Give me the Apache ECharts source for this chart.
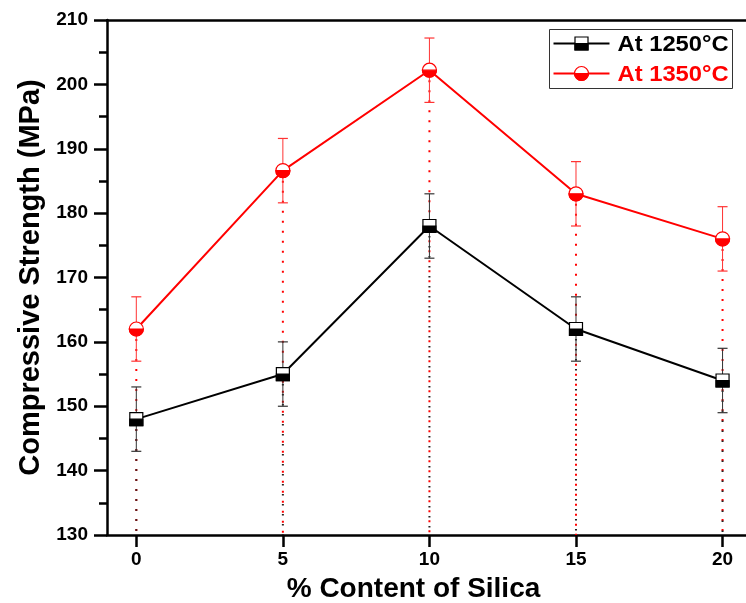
<!DOCTYPE html>
<html>
<head>
<meta charset="utf-8">
<script src="https://cdn.jsdelivr.net/npm/echarts@6/dist/echarts.min.js"></script>
<style>
  html, body { margin: 0; padding: 0; background: #ffffff; }
  #chart { width: 746px; height: 603px; }
</style>
</head>
<body>
<div id="chart"></div>
<script>
// Silica content (%) on the x axis
const silica = [0, 5, 10, 15, 20];
// Compressive strength (MPa) after firing at each temperature
const strength1250 = [148, 155, 178, 162, 154];
const strength1350 = [162, 186.6, 202.2, 183, 176];
// Standard deviation (MPa) for each point
const error1250 = [5, 5, 5, 5, 5];
const error1350 = [5, 5, 5, 5, 5];
// Legend labels
const seriesNames = ['At 1250°C', 'At 1350°C'];

const FONT = '"Liberation Sans", Arial, sans-serif';
const BLACK = '#000000';
const RED = '#ff0000';

const rows1250 = silica.map((x, i) => [x, strength1250[i], error1250[i]]);
const rows1350 = silica.map((x, i) => [x, strength1350[i], error1350[i]]);

// dotted drop line from a point down to the x axis
function dropLine(color, width, dash) {
  return function (params, api) {
    const top = api.coord([api.value(0), api.value(1)]);
    const bottom = api.coord([api.value(0), 130]);
    return {
      type: 'line',
      shape: { x1: top[0], y1: top[1], x2: bottom[0], y2: bottom[1] },
      style: { stroke: color, lineWidth: width, lineDash: dash }
    };
  };
}

// vertical error bar with caps
function errorBar(color) {
  return function (params, api) {
    const x = api.value(0), y = api.value(1), e = api.value(2);
    const hi = api.coord([x, y + e]);
    const lo = api.coord([x, y - e]);
    const w = 5;
    return {
      type: 'group',
      children: [
        { type: 'line', shape: { x1: hi[0], y1: hi[1], x2: lo[0], y2: lo[1] }, style: { stroke: color, lineWidth: 1 } },
        { type: 'line', shape: { x1: hi[0] - w, y1: hi[1], x2: hi[0] + w, y2: hi[1] }, style: { stroke: color, lineWidth: 1.2 } },
        { type: 'line', shape: { x1: lo[0] - w, y1: lo[1], x2: lo[0] + w, y2: lo[1] }, style: { stroke: color, lineWidth: 1.2 } }
      ]
    };
  };
}

// half-filled square marker shapes
function squareShapes(cx, cy, s) {
  return [
    { type: 'rect', shape: { x: cx - s / 2, y: cy - s / 2, width: s, height: s }, style: { fill: '#ffffff', stroke: BLACK, lineWidth: 1.2 } },
    { type: 'rect', shape: { x: cx - s / 2, y: cy, width: s, height: s / 2 }, style: { fill: BLACK, stroke: BLACK, lineWidth: 1.2 } }
  ];
}
// half-filled circle marker shapes
function circleShapes(cx, cy, r) {
  return [
    { type: 'circle', shape: { cx: cx, cy: cy, r: r }, style: { fill: '#ffffff', stroke: RED, lineWidth: 1.2 } },
    { type: 'sector', shape: { cx: cx, cy: cy, r0: 0, r: r, startAngle: 0, endAngle: Math.PI, clockwise: true }, style: { fill: RED, stroke: RED, lineWidth: 1.2 } }
  ];
}

function squareMarker(params, api) {
  const p = api.coord([api.value(0), api.value(1)]);
  return { type: 'group', children: squareShapes(p[0], p[1], 13) };
}
function circleMarker(params, api) {
  const p = api.coord([api.value(0), api.value(1)]);
  return { type: 'group', children: circleShapes(p[0], p[1], 7) };
}

const chart = echarts.init(document.getElementById('chart'), null, { renderer: 'canvas' });

// framed legend in the upper right corner
const legendGraphic = {
  type: 'group',
  left: 549, top: 29,
  children: [
    { type: 'rect', shape: { x: 0, y: 0, width: 183, height: 59 }, style: { fill: '#ffffff', stroke: '#333333', lineWidth: 1 } },
    { type: 'line', shape: { x1: 4, y1: 14, x2: 60, y2: 14 }, style: { stroke: BLACK, lineWidth: 2 } },
    { type: 'group', children: squareShapes(32, 14, 13) },
    { type: 'text', x: 68, y: 15, scaleX: 1.08, style: { text: seriesNames[0], fill: BLACK, font: 'bold 22px ' + FONT, verticalAlign: 'middle' } },
    { type: 'line', shape: { x1: 4, y1: 44, x2: 60, y2: 44 }, style: { stroke: RED, lineWidth: 2 } },
    { type: 'group', children: circleShapes(32, 44, 7) },
    { type: 'text', x: 68, y: 45, scaleX: 1.08, style: { text: seriesNames[1], fill: RED, font: 'bold 22px ' + FONT, verticalAlign: 'middle' } }
  ]
};

const option = {
  backgroundColor: '#ffffff',
  animation: false,
  grid: { left: 107, right: 0, top: 20, bottom: 68, containLabel: false, outerBoundsMode: 'none' },
  graphic: [legendGraphic],
  xAxis: [
    {
      type: 'value', min: -1, max: 20.8, interval: 5,
      name: '% Content of Silica', nameLocation: 'middle', nameGap: 40,
      nameTextStyle: { fontFamily: FONT, fontWeight: 'bold', fontSize: 28, color: '#000', padding: [0, 26, 0, 0] },
      axisLine: { show: true, onZero: false, lineStyle: { color: '#000', width: 2.5 } },
      axisTick: { show: true, length: 12, lineStyle: { color: '#000', width: 2.5 }, customValues: silica },
      axisLabel: { fontFamily: FONT, fontWeight: 'bold', fontSize: 19, color: '#000', margin: 15, customValues: silica },
      splitLine: { show: false }
    },
    {
      type: 'value', position: 'top', min: -1, max: 20.8,
      axisLine: { show: true, onZero: false, lineStyle: { color: '#000', width: 2.5 } },
      axisTick: { show: false }, axisLabel: { show: false }, splitLine: { show: false }
    }
  ],
  yAxis: {
    type: 'value', min: 130, max: 210, interval: 10,
    name: 'Compressive Strength (MPa)', nameLocation: 'middle', nameGap: 61,
    nameTextStyle: { fontFamily: FONT, fontWeight: 'bold', fontSize: 29, color: '#000' },
    axisLine: { show: true, onZero: false, lineStyle: { color: '#000', width: 2.5 } },
    axisTick: { show: true, length: 13, lineStyle: { color: '#000', width: 2.5 } },
    minorTick: { show: true, splitNumber: 2, length: 8, lineStyle: { color: '#000', width: 2.5 } },
    axisLabel: { fontFamily: FONT, fontWeight: 'bold', fontSize: 19, color: '#000', margin: 19 },
    splitLine: { show: false }
  },
  series: [
    { type: 'custom', name: 'drop1350', data: rows1350, encode: { x: 0, y: 1 }, renderItem: dropLine(RED, 2, [2, 8]), z: 1, silent: true },
    { type: 'custom', name: 'drop1250', data: rows1250, encode: { x: 0, y: 1 }, renderItem: dropLine('#222222', 2, [1.5, 8.5]), z: 1, silent: true },
    { type: 'custom', name: 'err1250', data: rows1250, encode: { x: 0, y: 1 }, renderItem: errorBar('#333333'), z: 2, silent: true },
    { type: 'custom', name: 'err1350', data: rows1350, encode: { x: 0, y: 1 }, renderItem: errorBar('#ff3333'), z: 2, silent: true },
    { type: 'line', name: seriesNames[0], data: rows1250.map(r => [r[0], r[1]]), showSymbol: false, lineStyle: { color: BLACK, width: 2 }, z: 3 },
    { type: 'line', name: seriesNames[1], data: rows1350.map(r => [r[0], r[1]]), showSymbol: false, lineStyle: { color: RED, width: 2 }, z: 3 },
    { type: 'custom', name: 'mark1250', data: rows1250, encode: { x: 0, y: 1 }, renderItem: squareMarker, z: 4 },
    { type: 'custom', name: 'mark1350', data: rows1350, encode: { x: 0, y: 1 }, renderItem: circleMarker, z: 4 }
  ]
};

chart.setOption(option);
</script>
</body>
</html>
